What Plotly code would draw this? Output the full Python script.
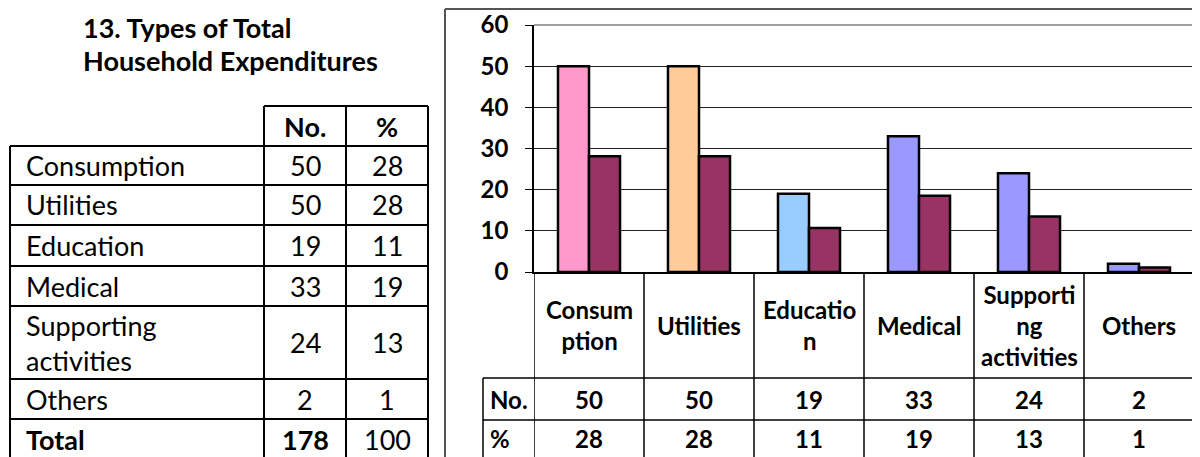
"""
13. Types of Total Household Expenditures
Tabela à esquerda + gráfico de barras com tabela de dados à direita.
"""

import plotly.graph_objects as go

# ── Dados ────────────────────────────────────────────────────────────────────

TITULO       = ["13. Types of Total", "Household Expenditures"]
CATEGORIAS   = ["Consumption", "Utilities", "Education", "Medical",
                "Supporting activities", "Others"]
ROTULOS_TAB  = ["Consumption", "Utilities", "Education", "Medical",
                "Supporting<br>activities", "Others"]
ROTULOS_GRAF = ["Consum<br>ption", "Utilities", "Educatio<br>n", "Medical",
                "Supporti<br>ng<br>activities", "Others"]
NUMEROS      = [50, 50, 19, 33, 24, 2]
PERCENT_TAB  = [28, 28, 11, 19, 13, 1]
PERCENT_BAR  = [28.1, 28.1, 10.7, 18.5, 13.5, 1.1]
TOTAL_NUM    = 178
TOTAL_PCT    = 100
CORES_NUM    = ["#FF99CC", "#FFCC99", "#99CCFF", "#9999FF", "#9999FF", "#9999FF"]
COR_PCT      = "#993366"

# ── Layout (pixels) ─────────────────────────────────────────────────────────

W, H   = 1200, 457
OFF    = 8          # margem do <body> da página
FONTE  = "Lato"
F_TAB  = 27
F_GRAF = 24


def px(x):
    return (x - OFF) / W


def py(y):
    return 1 - (y - OFF) / H


PLOT_X0, PLOT_X1 = 534, 1194
PLOT_Y0, PLOT_Y1 = 25, 272

fig = go.Figure()

fig.add_trace(go.Bar(
    x=list(range(len(CATEGORIAS))), y=NUMEROS, name="No.",
    marker=dict(color=CORES_NUM, line=dict(color="black", width=2.5)),
    customdata=CATEGORIAS,
    hovertemplate="%{customdata}: %{y}<extra>No.</extra>",
))
fig.add_trace(go.Bar(
    x=list(range(len(CATEGORIAS))), y=PERCENT_BAR, name="%",
    marker=dict(color=COR_PCT, line=dict(color="black", width=2.5)),
    customdata=CATEGORIAS,
    hovertemplate="%{customdata}: %{y}<extra>%</extra>",
))

shapes = []
anns = []


def linha(x0, y0, x1, y1, cor="black", w=2, xref="paper"):
    shapes.append(dict(type="line", xref=xref, yref="paper",
                       x0=x0, y0=y0, x1=x1, y1=y1,
                       line=dict(color=cor, width=w), layer="above"))


def texto(x, y, t, size=F_TAB, bold=False, xanchor="center", xref="paper"):
    anns.append(dict(x=x, y=y, xref=xref, yref="paper",
                     text=f"<b>{t}</b>" if bold else str(t),
                     showarrow=False, xanchor=xanchor, yanchor="middle",
                     align="left" if xanchor == "left" else "center",
                     font=dict(family=FONTE, size=size, color="black")))


# ── Título ──────────────────────────────────────────────────────────────────

texto(px(81), py(27), TITULO[0], bold=True, xanchor="left")
texto(px(81), py(60), TITULO[1], bold=True, xanchor="left")

# ── Tabela esquerda ─────────────────────────────────────────────────────────

COLS = [10, 264, 346, 428]
HDR_TOP, HDR_BOT = 106, 146
ALTURAS = [39, 40, 41, 40, 73, 40, 40]
FUNDO = 470

linha(px(COLS[1]), py(HDR_TOP), px(COLS[3]), py(HDR_TOP))
for c in COLS[1:]:
    linha(px(c), py(HDR_TOP), px(c), py(HDR_BOT))
texto(px((COLS[1] + COLS[2]) / 2), py((HDR_TOP + HDR_BOT) / 2), "No.", bold=True)
texto(px((COLS[2] + COLS[3]) / 2), py((HDR_TOP + HDR_BOT) / 2), "%", bold=True)

for c in COLS:
    linha(px(c), py(HDR_BOT), px(c), py(FUNDO))

linhas_tab = list(zip(ROTULOS_TAB, NUMEROS, PERCENT_TAB)) + [("Total", TOTAL_NUM, TOTAL_PCT)]
topo = HDR_BOT
for i, (rot, n, p) in enumerate(linhas_tab):
    base = topo + ALTURAS[i]
    linha(px(COLS[0]), py(topo), px(COLS[3]), py(topo))
    meio = py((topo + base) / 2)
    total = rot == "Total"
    texto(px(24), meio, rot, bold=total, xanchor="left")
    texto(px((COLS[1] + COLS[2]) / 2), meio, n, bold=total)
    texto(px((COLS[2] + COLS[3]) / 2), meio, p)
    topo = base

# ── Moldura do gráfico ──────────────────────────────────────────────────────

linha(px(445), py(9), px(1220), py(9), cor="#555555", w=2)
linha(px(445), py(9), px(445), py(FUNDO), cor="#555555", w=2)

linha(px(PLOT_X0), py(PLOT_Y0), px(PLOT_X1), py(PLOT_Y0), cor="#a0a0a0", w=2)
linha(px(PLOT_X1), py(PLOT_Y0), px(PLOT_X1), py(PLOT_Y1), cor="#a0a0a0", w=2)

# ── Tabela de dados sob o gráfico ───────────────────────────────────────────

ROW_NO, ROW_PCT = 378, 420
for i in range(len(CATEGORIAS) + 1):
    linha(i - 0.5, py(PLOT_Y1), i - 0.5, py(FUNDO), w=1.5, xref="x")
linha(px(483), py(ROW_NO), px(PLOT_X1), py(ROW_NO), w=1.5)
linha(px(483), py(ROW_PCT), px(PLOT_X1), py(ROW_PCT), w=1.5)
linha(px(483), py(ROW_NO), px(483), py(FUNDO), w=1.5)

texto(px(488), py((ROW_NO + ROW_PCT) / 2), "No.", size=F_GRAF, bold=True, xanchor="left")
texto(px(488), py((ROW_PCT + 457) / 2), "%", size=F_GRAF, bold=True, xanchor="left")

for i, rot in enumerate(ROTULOS_GRAF):
    texto(i, py((PLOT_Y1 + ROW_NO) / 2), rot, size=F_GRAF, bold=True, xref="x")
    texto(i, py((ROW_NO + ROW_PCT) / 2), NUMEROS[i], size=F_GRAF, bold=True, xref="x")
    texto(i, py((ROW_PCT + 457) / 2), PERCENT_TAB[i], size=F_GRAF, bold=True, xref="x")

# ── Layout ──────────────────────────────────────────────────────────────────

fig.update_layout(
    width=W, height=H,
    margin=dict(l=0, r=0, t=0, b=0),
    paper_bgcolor="white", plot_bgcolor="white",
    barmode="group", bargap=0.436, bargroupgap=0,
    showlegend=False,
    font=dict(family=FONTE, color="black"),
    xaxis=dict(domain=[px(PLOT_X0), px(PLOT_X1)], range=[-0.5, len(CATEGORIAS) - 0.5],
               showticklabels=False, showgrid=False, zeroline=False, automargin=False,
               showline=True, linecolor="black", linewidth=1.5, fixedrange=True),
    yaxis=dict(domain=[py(PLOT_Y1), py(PLOT_Y0)], range=[0, 60], dtick=10,
               showgrid=True, gridcolor="#222222", gridwidth=1, zeroline=False,
               showline=True, linecolor="black", linewidth=1.5, automargin=False,
               ticks="outside", ticklen=7, tickcolor="black",
               tickfont=dict(family=FONTE, size=F_GRAF, color="black", weight="bold"),
               ticklabelstandoff=12, fixedrange=True),
    shapes=shapes,
    annotations=anns,
)

fig.write_html("out.html")
